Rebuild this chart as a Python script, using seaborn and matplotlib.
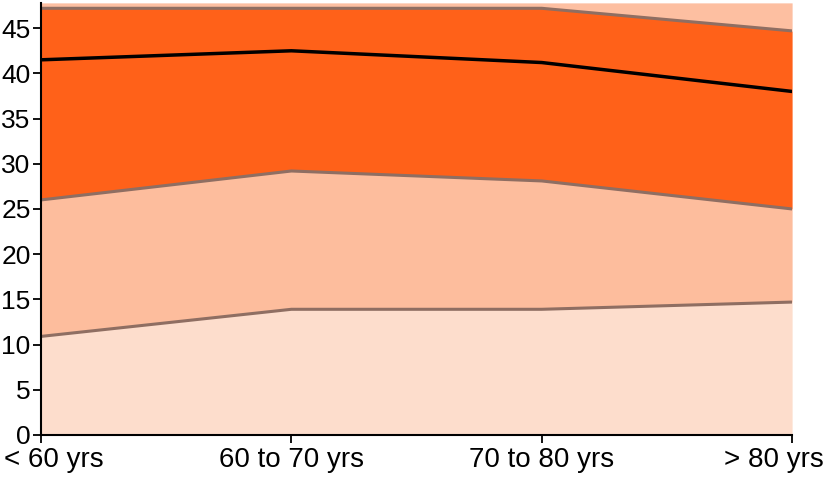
import numpy as np
import pandas as pd
import matplotlib
matplotlib.use("Agg")
import matplotlib.pyplot as plt
import matplotlib.transforms as mtransforms
import seaborn as sns

# Dados
categorias = ["< 60 yrs", "60 to 70 yrs", "70 to 80 yrs", "> 80 yrs"]
limite_inferior = [10.9, 13.9, 13.9, 14.7]
limite_medio = [26.0, 29.2, 28.1, 25.0]
limite_superior = [47.2, 47.2, 47.2, 44.7]
linha_central = [41.5, 42.5, 41.2, 38.0]
y_ticks = [0, 5, 10, 15, 20, 25, 30, 35, 40, 45]

sns.set_style("ticks")
plt.rcParams['font.family'] = ['Liberation Sans', 'DejaVu Sans']

x = np.arange(len(categorias))
df = pd.DataFrame({"x": x, "inferior": limite_inferior, "medio": limite_medio,
                   "superior": limite_superior, "central": linha_central})

fig = plt.figure(figsize=(8.29, 4.79), dpi=100)
ax = fig.add_axes([0.0495, 0.092, 0.906, 0.902])
y_top = 47.8

# Faixas coloridas
ax.fill_between(df["x"], 0, df["inferior"], color="#FDDDCC", lw=0)
ax.fill_between(df["x"], df["inferior"], df["medio"], color="#FDBD9D", lw=0)
ax.fill_between(df["x"], df["medio"], df["superior"], color="#FF6119", lw=0)
ax.fill_between(df["x"], df["superior"], y_top, color="#FDBFA1", lw=0)

# Linhas de borda
for col in ["inferior", "medio", "superior"]:
    sns.lineplot(data=df, x="x", y=col, ax=ax, color="#8F6E62", lw=2.2)
sns.lineplot(data=df, x="x", y="central", ax=ax, color="black", lw=2.5)

ax.set_xlim(0, 3)
ax.set_ylim(0, y_top)
ax.set_yticks(y_ticks)
ax.set_xticks(x)
ax.set_xticklabels(categorias)
ax.set_xlabel("")
ax.set_ylabel("")
ax.tick_params(axis="both", length=6, width=1.3, colors="black")
ax.tick_params(axis="y", labelsize=19, pad=1.5)
ax.tick_params(axis="x", labelsize=20, pad=3)
for s in ["left", "bottom"]:
    ax.spines[s].set_linewidth(1.5)
    ax.spines[s].set_color("black")
sns.despine(ax=ax)
ax.set_zorder(1)

# Ajuste dos rótulos das extremidades
labels = ax.get_xticklabels()
labels[0].set_transform(labels[0].get_transform() +
                        mtransforms.ScaledTranslation(0.13, 0, fig.dpi_scale_trans))
labels[-1].set_transform(labels[-1].get_transform() +
                         mtransforms.ScaledTranslation(-0.18, 0, fig.dpi_scale_trans))

fig.savefig("out.png", dpi=100)
